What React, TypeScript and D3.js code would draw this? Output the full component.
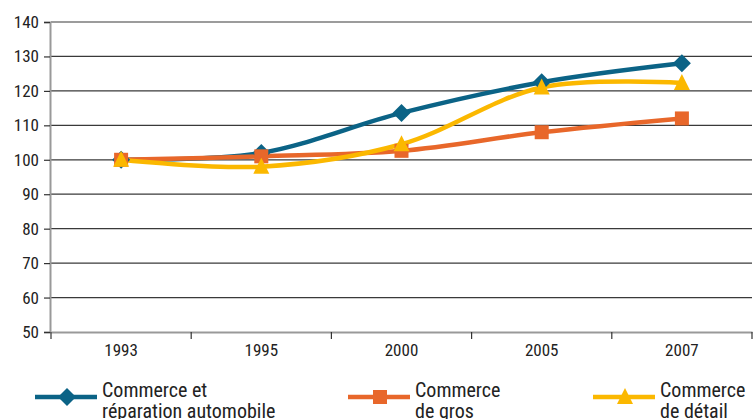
import React, { useEffect, useRef } from 'react';
import * as d3 from 'd3';

const years = ['1993', '1995', '2000', '2005', '2007'];
const auto = [100, 102, 113.6, 122.5, 128];
const gros = [100, 101, 102.6, 108, 112];
const detail = [100, 98, 104.5, 121, 122.3];
const yTicks = [50, 60, 70, 80, 90, 100, 110, 120, 130, 140];

const series = [
  { name: ['Commerce et', 'réparation automobile'], values: auto, color: '#0b6386', marker: 'diamond' },
  { name: ['Commerce', 'de gros'], values: gros, color: '#e8672a', marker: 'square' },
  { name: ['Commerce', 'de détail'], values: detail, color: '#fbb800', marker: 'triangle' },
];

const FONT = '"Liberation Sans Narrow", "Roboto Condensed", "Liberation Sans", sans-serif';

const App: React.FC = () => {
  const svgRef = useRef<SVGSVGElement>(null);
  const width = 753;
  const height = 419;

  useEffect(() => {
    document.body.style.margin = '0';
    if (!svgRef.current) return;
    const svg = d3.select(svgRef.current);
    svg.selectAll('*').remove();

    const left = 51, right = 752, top = 22, bottom = 332;

    const x = d3.scaleBand<string>().domain(years).range([left, right]);
    const y = d3.scaleLinear().domain([50, 140]).range([bottom, top]);

    // grid lines
    svg.append('g')
      .selectAll('line')
      .data(yTicks.filter(t => t > 50))
      .join('line')
      .attr('x1', left)
      .attr('x2', right)
      .attr('y1', d => y(d))
      .attr('y2', d => y(d))
      .attr('stroke', '#3a3a3a')
      .attr('stroke-width', 1.2);

    // y axis
    const yAxis = svg.append('g')
      .attr('transform', `translate(${left - 1},0)`)
      .call(d3.axisLeft(y).tickValues(yTicks).tickSize(6).tickPadding(5));
    yAxis.select('.domain').attr('stroke', '#999').attr('stroke-width', 2);
    yAxis.selectAll('.tick line').attr('stroke', '#333').attr('stroke-width', 1.2);
    yAxis.selectAll('text')
      .attr('font-family', FONT)
      .attr('font-size', 17)
      .attr('fill', '#222');

    // x axis
    const xAxis = svg.append('g')
      .attr('transform', `translate(0,${bottom})`)
      .call(d3.axisBottom(x).tickSize(0).tickPadding(12));
    xAxis.select('.domain').attr('stroke', '#999').attr('stroke-width', 2);
    xAxis.selectAll('text')
      .attr('font-family', FONT)
      .attr('font-size', 17)
      .attr('fill', '#222');
    const bounds = years.map(yr => x(yr)!).concat([right]);
    xAxis.selectAll('.bound')
      .data(bounds)
      .join('line')
      .attr('x1', d => d)
      .attr('x2', d => d)
      .attr('y1', 0)
      .attr('y2', 7)
      .attr('stroke', '#333')
      .attr('stroke-width', 1.2);

    const cx = (i: number) => x(years[i])! + x.bandwidth() / 2;

    const line = d3.line<number>()
      .x((_, i) => cx(i))
      .y(d => y(d))
      .curve(d3.curveCatmullRom.alpha(0.5));

    const drawMarker = (g: d3.Selection<SVGGElement, unknown, null, undefined>, kind: string, color: string, px: number, py: number) => {
      if (kind === 'diamond') {
        g.append('path')
          .attr('d', `M${px},${py - 9}L${px + 9},${py}L${px},${py + 9}L${px - 9},${py}Z`)
          .attr('fill', color);
      } else if (kind === 'square') {
        g.append('rect')
          .attr('x', px - 7).attr('y', py - 7)
          .attr('width', 14).attr('height', 14)
          .attr('fill', color);
      } else {
        g.append('path')
          .attr('d', `M${px},${py - 9}L${px + 8},${py + 7}L${px - 8},${py + 7}Z`)
          .attr('fill', color);
      }
    };

    const plot = svg.append('g');
    series.forEach(s => {
      plot.append('path')
        .datum(s.values)
        .attr('fill', 'none')
        .attr('stroke', s.color)
        .attr('stroke-width', 4.5)
        .attr('d', line);
    });
    series.forEach(s => {
      const mg = plot.append('g');
      s.values.forEach((v, i) => drawMarker(mg, s.marker, s.color, cx(i), y(v)));
    });

    // legend
    const legendX = [35, 348, 593];
    series.forEach((s, i) => {
      const g = svg.append('g').attr('transform', `translate(${legendX[i]},397)`);
      g.append('line')
        .attr('x1', 0).attr('x2', 62)
        .attr('stroke', s.color)
        .attr('stroke-width', 4.5);
      const mg = g.append('g');
      drawMarker(mg, s.marker, s.color, 32, 0);
      const t = g.append('text')
        .attr('x', 67)
        .attr('y', 0)
        .attr('font-family', FONT)
        .attr('font-size', 20)
        .attr('fill', '#222');
      s.name.forEach((n, k) => {
        t.append('tspan').attr('x', 67).attr('dy', k === 0 ? 0 : 21).text(n);
      });
    });
  }, []);

  return (
    <div style={{ width, height, overflow: 'hidden' }}>
      <svg ref={svgRef} width={width} height={height} style={{ display: 'block', background: '#fff' }} />
    </div>
  );
};

export default App;
